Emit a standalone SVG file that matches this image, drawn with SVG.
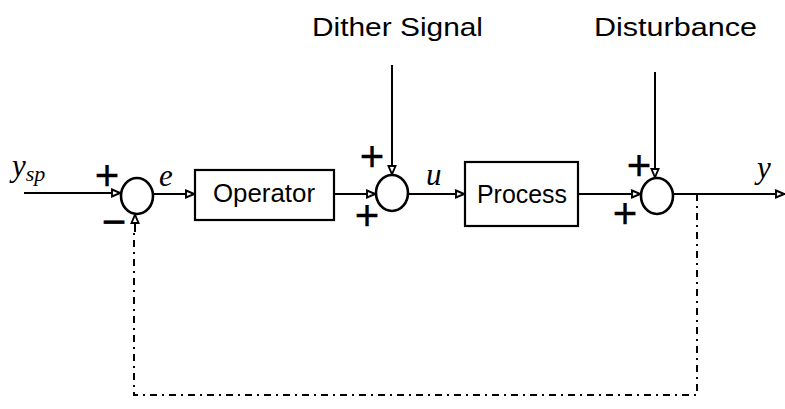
<svg xmlns="http://www.w3.org/2000/svg" width="785" height="409" viewBox="0 0 785 409">
<style>
.ln{stroke:#000;stroke-width:2;fill:none}
.dd{stroke:#000;stroke-width:2;fill:none;stroke-dasharray:7 5 2 5}
.box{stroke:#000;stroke-width:2.2;fill:#fff}
.sum{stroke:#000;stroke-width:2.6;fill:#fff}
.lbl{font-family:"Liberation Sans",Arial,sans-serif;font-size:25px;fill:#000}
.ttl{font-family:"Liberation Sans",Arial,sans-serif;font-size:26px;fill:#000}
.sym{font-family:"Liberation Sans",Arial,sans-serif;font-size:42px;fill:#000;stroke:#000;stroke-width:0.3}
.var{font-family:"Liberation Serif","Times New Roman",serif;font-style:italic;font-size:31px;fill:#000}
</style>
<defs>
<marker id="ah" viewBox="0 0 10 10" refX="10" refY="5" markerWidth="10" markerHeight="10" markerUnits="userSpaceOnUse" orient="auto">
<path d="M1,1.5 L9.3,5 L1,8.5 Z" fill="#fff" stroke="#000" stroke-width="1.9"/>
</marker>
</defs>
<rect width="785" height="409" fill="#fff"/>
<g id="connectors">
<line class="ln" x1="24" y1="193" x2="121" y2="193" marker-end="url(#ah)"/>
<line class="ln" x1="153" y1="194" x2="195" y2="194" marker-end="url(#ah)"/>
<line class="ln" x1="334" y1="194" x2="376" y2="194" marker-end="url(#ah)"/>
<line class="ln" x1="392" y1="65" x2="392" y2="175" marker-end="url(#ah)"/>
<line class="ln" x1="408" y1="194" x2="465" y2="194" marker-end="url(#ah)"/>
<line class="ln" x1="578" y1="194" x2="641" y2="194" marker-end="url(#ah)"/>
<line class="ln" x1="655" y1="72" x2="655" y2="178" marker-end="url(#ah)"/>
<line class="ln" x1="673" y1="194" x2="785" y2="194" marker-end="url(#ah)"/>
<path class="dd" d="M697,194 L697,395 L134,395 L134,230"/>
<line class="ln" x1="135" y1="232" x2="135" y2="214" marker-end="url(#ah)"/>
</g>
<g id="sum1">
<ellipse class="sum" cx="137" cy="196" rx="16" ry="18"/>
<text class="sym" x="107" y="190" text-anchor="middle">+</text>
<text class="sym" x="114" y="236" text-anchor="middle">−</text>
</g>
<g id="operator">
<rect class="box" x="195" y="170" width="139" height="50"/>
<text class="lbl" x="264" y="202" text-anchor="middle" textLength="102" lengthAdjust="spacingAndGlyphs">Operator</text>
</g>
<g id="sum2">
<ellipse class="sum" cx="392" cy="193" rx="16" ry="18"/>
<text class="sym" x="372" y="171" text-anchor="middle">+</text>
<text class="sym" x="367" y="230" text-anchor="middle">+</text>
</g>
<g id="process">
<rect class="box" x="465" y="162" width="113" height="64"/>
<text class="lbl" x="522" y="203" text-anchor="middle" textLength="90" lengthAdjust="spacingAndGlyphs">Process</text>
</g>
<g id="sum3">
<ellipse class="sum" cx="657" cy="196" rx="16" ry="18"/>
<text class="sym" x="639" y="180" text-anchor="middle">+</text>
<text class="sym" x="625" y="228" text-anchor="middle">+</text>
</g>
<g id="labels">
<text class="var" x="12" y="176">y<tspan font-size="22" dy="5">sp</tspan></text>
<text class="var" x="159" y="186">e</text>
<text class="var" x="426" y="185">u</text>
<text class="var" x="757" y="178">y</text>
<text class="ttl" x="312" y="36" textLength="171" lengthAdjust="spacingAndGlyphs">Dither Signal</text>
<text class="ttl" x="594" y="36" textLength="163" lengthAdjust="spacingAndGlyphs">Disturbance</text>
</g>
</svg>
